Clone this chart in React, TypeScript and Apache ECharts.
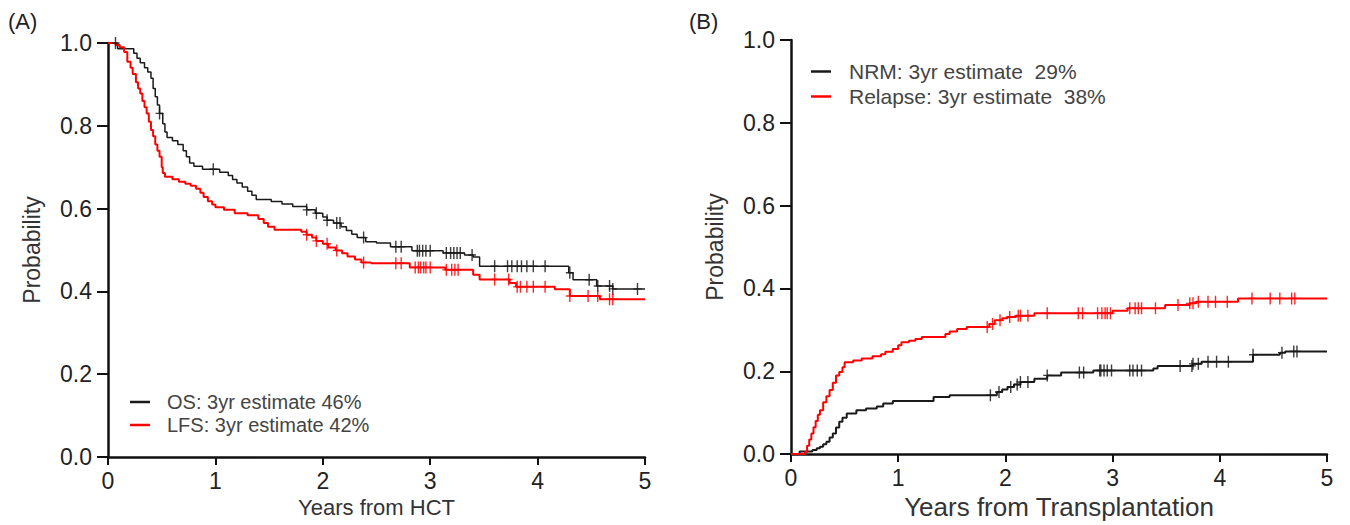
import React, { useEffect, useRef } from "react";
import * as echarts from "echarts";

// ---- Panel A: Kaplan-Meier (time in years, probability) ----
const osCurve: [number, number][] = [
  [0, 1.0], [0.09, 0.986], [0.24, 0.975], [0.27, 0.963], [0.3, 0.952], [0.34, 0.94], [0.37, 0.93],
  [0.4, 0.915], [0.42, 0.89], [0.44, 0.87], [0.46, 0.85], [0.48, 0.83], [0.51, 0.805], [0.53, 0.785],
  [0.55, 0.772], [0.6, 0.764], [0.65, 0.755], [0.7, 0.74], [0.73, 0.725], [0.76, 0.71], [0.8, 0.702],
  [0.88, 0.695], [1.04, 0.688], [1.12, 0.68], [1.16, 0.67], [1.2, 0.662], [1.25, 0.652], [1.3, 0.642],
  [1.34, 0.632], [1.38, 0.622], [1.52, 0.617], [1.62, 0.611], [1.72, 0.605], [1.85, 0.597], [1.93, 0.589],
  [2.0, 0.58], [2.04, 0.572], [2.1, 0.565], [2.17, 0.556], [2.22, 0.547], [2.27, 0.538], [2.32, 0.53],
  [2.4, 0.52], [2.5, 0.517], [2.63, 0.508], [2.83, 0.498], [3.12, 0.493], [3.32, 0.488], [3.4, 0.483],
  [3.46, 0.461], [4.29, 0.445], [4.33, 0.428], [4.55, 0.413], [4.7, 0.406], [5.0, 0.406],
];
const lfsCurve: [number, number][] = [
  [0, 1.0], [0.07, 0.995], [0.11, 0.99], [0.15, 0.978], [0.18, 0.955], [0.21, 0.94], [0.23, 0.925],
  [0.26, 0.905], [0.28, 0.89], [0.3, 0.878], [0.32, 0.86], [0.34, 0.845], [0.36, 0.83], [0.38, 0.81],
  [0.4, 0.79], [0.42, 0.775], [0.44, 0.755], [0.46, 0.74], [0.48, 0.725], [0.5, 0.7], [0.51, 0.686],
  [0.53, 0.677], [0.6, 0.671], [0.66, 0.665], [0.72, 0.66], [0.77, 0.655], [0.82, 0.648], [0.86, 0.638],
  [0.89, 0.628], [0.93, 0.618], [0.97, 0.61], [1.0, 0.603], [1.08, 0.597], [1.18, 0.589], [1.3, 0.584],
  [1.4, 0.575], [1.45, 0.565], [1.49, 0.556], [1.55, 0.549], [1.8, 0.544], [1.85, 0.537], [1.9, 0.53],
  [1.94, 0.522], [2.0, 0.515], [2.05, 0.506], [2.12, 0.499], [2.18, 0.492], [2.23, 0.484], [2.3, 0.477],
  [2.36, 0.47], [2.45, 0.468], [2.81, 0.458], [3.14, 0.452], [3.4, 0.44], [3.46, 0.429], [3.74, 0.42],
  [3.8, 0.411], [4.16, 0.405], [4.3, 0.389], [4.58, 0.381], [5.0, 0.381],
];
const osCensor = [0.07, 0.48, 0.98, 1.85, 1.94, 2.04, 2.13, 2.16, 2.38, 2.68, 2.73, 2.88, 2.9, 2.93, 2.96, 3.0,
  3.15, 3.19, 3.22, 3.25, 3.28, 3.39, 3.6, 3.72, 3.76, 3.81, 3.85, 3.9, 3.96, 4.07, 4.3, 4.48, 4.56, 4.67, 4.7, 4.93];
const lfsCensor = [1.85, 1.94, 2.04, 2.13, 2.38, 2.68, 2.73, 2.86, 2.89, 2.91, 2.94, 2.96, 3.0, 3.15, 3.2, 3.23,
  3.26, 3.6, 3.73, 3.81, 3.84, 3.9, 3.96, 4.07, 4.3, 4.47, 4.56, 4.67, 4.7];

// ---- Panel B: cumulative incidence ----
const nrmCurve: [number, number][] = [
  [0, 0], [0.08, 0.006], [0.2, 0.01], [0.24, 0.014], [0.27, 0.018], [0.3, 0.024], [0.33, 0.03], [0.36, 0.04],
  [0.39, 0.05], [0.42, 0.064], [0.45, 0.078], [0.48, 0.088], [0.52, 0.098], [0.61, 0.106], [0.7, 0.11],
  [0.8, 0.115], [0.86, 0.122], [0.95, 0.128], [1.33, 0.138], [1.48, 0.142], [1.92, 0.15], [1.97, 0.156],
  [2.02, 0.162], [2.08, 0.168], [2.14, 0.174], [2.27, 0.182], [2.39, 0.19], [2.52, 0.197], [2.82, 0.202],
  [3.38, 0.207], [3.42, 0.213], [3.75, 0.218], [3.83, 0.223], [4.31, 0.24], [4.56, 0.245], [4.61, 0.248],
  [5.0, 0.248],
];
const relapseCurve: [number, number][] = [
  [0, 0], [0.13, 0.005], [0.15, 0.02], [0.17, 0.035], [0.19, 0.05], [0.21, 0.065], [0.23, 0.08], [0.25, 0.095],
  [0.27, 0.106], [0.3, 0.125], [0.33, 0.14], [0.36, 0.155], [0.39, 0.172], [0.42, 0.19], [0.45, 0.198],
  [0.48, 0.21], [0.5, 0.222], [0.58, 0.226], [0.66, 0.231], [0.76, 0.236], [0.84, 0.241], [0.88, 0.247],
  [0.95, 0.254], [1.0, 0.263], [1.03, 0.27], [1.1, 0.274], [1.16, 0.278], [1.22, 0.283], [1.44, 0.29],
  [1.48, 0.296], [1.55, 0.302], [1.64, 0.307], [1.85, 0.314], [1.9, 0.323], [1.97, 0.328], [2.02, 0.331],
  [2.1, 0.334], [2.27, 0.34], [3.0, 0.346], [3.14, 0.352], [3.49, 0.36], [3.72, 0.364], [3.78, 0.368],
  [4.17, 0.376], [5.0, 0.376],
];
const nrmCensor = [1.86, 1.94, 2.05, 2.11, 2.14, 2.21, 2.39, 2.69, 2.73, 2.88, 2.89, 2.92, 2.95, 2.99, 3.16,
  3.19, 3.23, 3.27, 3.63, 3.74, 3.75, 3.8, 3.89, 3.97, 4.08, 4.31, 4.58, 4.69, 4.72];
const relapseCensor = [1.83, 1.88, 1.95, 2.04, 2.12, 2.14, 2.21, 2.39, 2.68, 2.72, 2.86, 2.9, 2.93, 2.95, 2.98,
  3.16, 3.21, 3.24, 3.27, 3.4, 3.61, 3.72, 3.75, 3.8, 3.89, 3.96, 4.07, 4.3, 4.47, 4.56, 4.67, 4.7];

const yTicks = [0, 0.2, 0.4, 0.6, 0.8, 1.0];
const xTicks = [0, 1, 2, 3, 4, 5];
const legendA = ["OS: 3yr estimate 46%", "LFS: 3yr estimate 42%"];
const legendB = ["NRM: 3yr estimate  29%", "Relapse: 3yr estimate  38%"];
const panelLabels = ["(A)", "(B)"];
const xNames = ["Years from HCT", "Years from Transplantation"];
const yName = "Probability";

const BLACK = "#1a1a1a";
const RED = "#ff0000";
const FONT = "'Liberation Sans', Arial, sans-serif";
const PLUS = "path://M3.3,0h1.4v5.3h3.3v1.4h-3.3v5.3h-1.4v-5.3h-3.3v-1.4h3.3z";

function stepAt(curve: [number, number][], t: number): number {
  let v = curve[0][1];
  for (const [x, y] of curve) {
    if (x <= t) v = y;
    else break;
  }
  return v;
}

function lineSeries(name: string, curve: [number, number][], color: string, idx: number, width: number) {
  return {
    name,
    type: "line",
    xAxisIndex: idx,
    yAxisIndex: idx,
    step: "end",
    data: curve,
    showSymbol: false,
    symbol: "none",
    lineStyle: { color, width },
    itemStyle: { color },
    z: 3,
  };
}

function censorSeries(curve: [number, number][], times: number[], color: string, idx: number) {
  return {
    type: "scatter",
    xAxisIndex: idx,
    yAxisIndex: idx,
    data: times.map((t) => [t, stepAt(curve, t)]),
    symbol: PLUS,
    symbolSize: [8, 12],
    itemStyle: { color, opacity: 0.85 },
    z: 4,
    silent: true,
  };
}

export default function App() {
  const ref = useRef<HTMLDivElement>(null);
  useEffect(() => {
    if (!ref.current) return;
    const chart = echarts.init(ref.current, undefined, { renderer: "svg" });
    const axisLine = { lineStyle: { color: "#111", width: 2.5 } };
    const xAxis = [0, 1].map((i) => ({
      type: "value",
      gridIndex: i,
      min: xTicks[0],
      max: xTicks[xTicks.length - 1],
      interval: 1,
      name: xNames[i],
      nameLocation: "middle",
      nameGap: 36,
      nameTextStyle: { fontSize: i === 0 ? 22 : 26, color: "#333", fontFamily: FONT },
      axisLine,
      axisTick: { length: 8, lineStyle: { color: "#111", width: 2 } },
      axisLabel: { fontSize: 23, color: "#222", margin: 12, fontFamily: FONT },
      splitLine: { show: false },
    }));
    const yAxis = [0, 1].map((i) => ({
      type: "value",
      gridIndex: i,
      min: yTicks[0],
      max: yTicks[yTicks.length - 1],
      interval: 0.2,
      name: yName,
      nameLocation: "middle",
      nameGap: 65,
      nameTextStyle: { fontSize: 23, color: "#333", fontFamily: FONT },
      axisLine,
      axisTick: { length: 11, lineStyle: { color: "#111", width: 2 } },
      axisLabel: {
        fontSize: 23,
        color: "#222",
        margin: 16,
        fontFamily: FONT,
        formatter: (v: number) => v.toFixed(1),
      },
      splitLine: { show: false },
    }));
    chart.setOption({
      animation: false,
      backgroundColor: "#fff",
      textStyle: { fontFamily: FONT },
      grid: [
        { left: 108, top: 43, width: 537, height: 414 },
        { left: 791, top: 40, width: 536, height: 416 },
      ],
      xAxis,
      yAxis,
      legend: [
        {
          data: legendA,
          orient: "vertical",
          left: 125,
          top: 387,
          icon: "rect",
          itemWidth: 20,
          itemHeight: 2.5,
          itemGap: 3,
          selectedMode: false,
          textStyle: { fontSize: 20, color: "#444", padding: [0, 0, 0, 12], fontFamily: FONT },
        },
        {
          data: legendB,
          orient: "vertical",
          left: 806,
          top: 56,
          icon: "rect",
          itemWidth: 20,
          itemHeight: 2.5,
          itemGap: 4,
          selectedMode: false,
          textStyle: { fontSize: 21, color: "#444", padding: [0, 0, 0, 13], fontFamily: FONT },
        },
      ],
      graphic: [
        { type: "text", left: 8, top: 10, style: { text: panelLabels[0], fontSize: 22, fill: "#222", fontFamily: FONT } },
        { type: "text", left: 689, top: 10, style: { text: panelLabels[1], fontSize: 22, fill: "#222", fontFamily: FONT } },
      ],
      series: [
        lineSeries(legendA[0], osCurve, BLACK, 0, 1.5),
        lineSeries(legendA[1], lfsCurve, RED, 0, 2),
        censorSeries(osCurve, osCensor, BLACK, 0),
        censorSeries(lfsCurve, lfsCensor, RED, 0),
        lineSeries(legendB[0], nrmCurve, BLACK, 1, 2),
        lineSeries(legendB[1], relapseCurve, RED, 1, 2),
        censorSeries(nrmCurve, nrmCensor, BLACK, 1),
        censorSeries(relapseCurve, relapseCensor, RED, 1),
      ],
    });
    return () => chart.dispose();
  }, []);
  return <div ref={ref} style={{ position: "fixed", left: 0, top: 0, width: 1350, height: 525 }} />;
}
